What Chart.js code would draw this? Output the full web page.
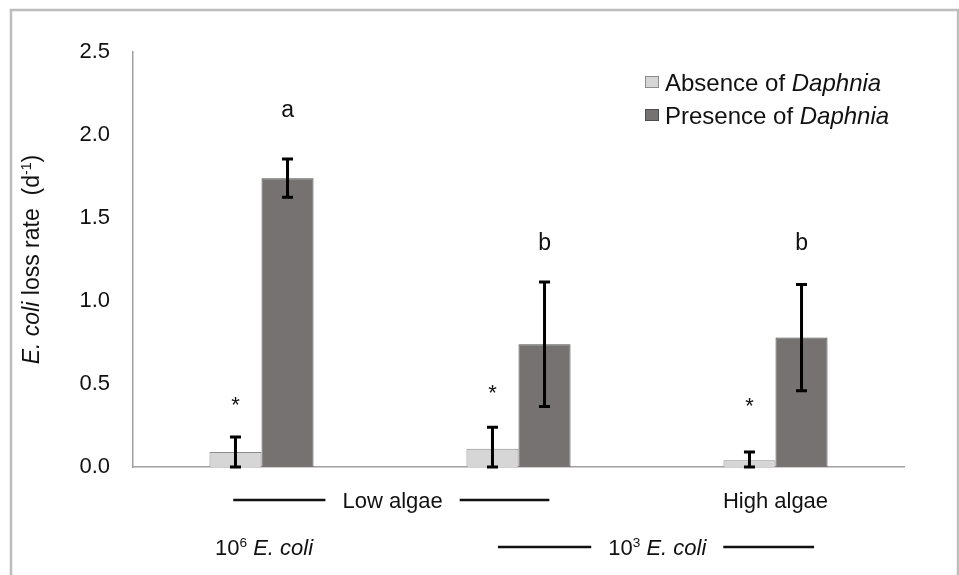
<!DOCTYPE html>
<html>
<head>
<meta charset="utf-8">
<script src="https://cdn.jsdelivr.net/npm/chart.js@4"></script>
<style>
html,body{margin:0;padding:0;background:#fff;}
#wrap{width:959px;height:575px;}
</style>
</head>
<body>
<div id="wrap"><canvas id="c" width="959" height="575"></canvas></div>
<script>
// ---- data ----
const categories = ["Low algae, 10^6", "Low algae, 10^3", "High algae, 10^3"];
const absenceValues = [0.09, 0.11, 0.04];
const absenceErrors = [0.09, 0.13, 0.05];
const presenceValues = [1.74, 0.74, 0.78];
const presenceErrors = [0.115, 0.375, 0.32];
const yTicks = [0, 0.5, 1.0, 1.5, 2.0, 2.5];
const presenceLetters = ["a", "b", "b"];
const presenceLetterHeights = [2.11, 1.31, 1.31];
const absenceMarks = ["*", "*", "*"];
const absenceMarkHeights = [0.334, 0.406, 0.328];
const legendLabels = [
  [{t:"Absence of "}, {t:"Daphnia", i:true}],
  [{t:"Presence of "}, {t:"Daphnia", i:true}]
];
const yTitle = [{t:"E. coli", i:true}, {t:" loss rate  (d"}, {t:"-1", sup:true}, {t:")"}];
// group labels below axis: from/to in category index units
const groupRow1 = [
  {parts:[{t:"Low algae"}], center:0.51, from:-0.11, to:1.12},
  {parts:[{t:"High algae"}], center:2.0, from:null, to:null}
];
const groupRow2 = [
  {parts:[{t:"10"}, {t:"6", sup:true}, {t:" E. coli", i:true}], center:0.01, from:null, to:null},
  {parts:[{t:"10"}, {t:"3", sup:true}, {t:" E. coli", i:true}], center:1.54, from:0.92, to:2.15}
];

const FONT = '"Liberation Sans", Arial, Helvetica, sans-serif';
const LIGHT = '#d6d6d6', LIGHT_B = '#8c8c8c';
const DARK = '#767272', DARK_B = '#4e4e4e';

function fontStr(size, italic){ return (italic ? 'italic ' : '') + size + 'px ' + FONT; }
function partsWidth(ctx, parts, size){
  let w = 0;
  for (const p of parts){ const s = p.sup ? size*0.62 : size; ctx.font = fontStr(s, p.i); w += ctx.measureText(p.t).width; }
  return w;
}
function drawParts(ctx, parts, x, y, size){ // x = left, y = alphabetic baseline
  for (const p of parts){
    const s = p.sup ? size*0.62 : size;
    ctx.font = fontStr(s, p.i);
    ctx.fillText(p.t, x, p.sup ? y - size*0.36 : y);
    x += ctx.measureText(p.t).width;
  }
  return x;
}

const decor = {
  id: 'decor',
  beforeDraw(chart){
    const ctx = chart.ctx;
    ctx.save();
    ctx.fillStyle = '#fff';
    ctx.fillRect(0,0,chart.width,chart.height);
    ctx.strokeStyle = '#bdbdbd';
    ctx.lineWidth = 2.5;
    ctx.strokeRect(11, 10, 947, 620);
    ctx.restore();
  },
  afterDatasetsDraw(chart){
    const ctx = chart.ctx;
    const ys = chart.scales.y, xs = chart.scales.x;
    ctx.save();
    // error bars
    const errs = [absenceErrors, presenceErrors];
    chart.data.datasets.forEach((ds, di) => {
      const meta = chart.getDatasetMeta(di);
      meta.data.forEach((el, i) => {
        const v = ds.data[i], e = errs[di][i];
        const top = ys.getPixelForValue(v + e);
        const bot = ys.getPixelForValue(Math.max(0, v - e));
        const x = el.x;
        ctx.strokeStyle = '#000';
        ctx.lineWidth = 3;
        ctx.beginPath();
        ctx.moveTo(x, top); ctx.lineTo(x, bot);
        ctx.moveTo(x-5.5, top); ctx.lineTo(x+5.5, top);
        ctx.moveTo(x-5.5, bot); ctx.lineTo(x+5.5, bot);
        ctx.stroke();
      });
    });
    // significance letters and marks
    ctx.fillStyle = '#111';
    ctx.textAlign = 'center';
    ctx.textBaseline = 'alphabetic';
    const m0 = chart.getDatasetMeta(0), m1 = chart.getDatasetMeta(1);
    presenceLetters.forEach((t, i) => {
      ctx.font = fontStr(23, false);
      ctx.fillText(t, m1.data[i].x, ys.getPixelForValue(presenceLetterHeights[i]));
    });
    absenceMarks.forEach((t, i) => {
      ctx.font = fontStr(22, false);
      ctx.fillText(t, m0.data[i].x, ys.getPixelForValue(absenceMarkHeights[i]));
    });
    ctx.textAlign = 'left';
    // legend
    const lx = 645, ly = [82, 115];
    legendLabels.forEach((parts, i) => {
      const ds = chart.data.datasets[i];
      ctx.fillStyle = ds.backgroundColor;
      ctx.strokeStyle = ds.borderColor;
      ctx.lineWidth = 1;
      ctx.fillRect(lx, ly[i]-6, 14, 12);
      ctx.strokeRect(lx+0.5, ly[i]-5.5, 13, 11);
      ctx.fillStyle = '#111';
      drawParts(ctx, parts, lx + 20, ly[i] + 8.5, 24);
    });
    // y title
    ctx.save();
    ctx.translate(31, (chart.chartArea.top + chart.chartArea.bottom)/2);
    ctx.rotate(-Math.PI/2);
    const tw = partsWidth(ctx, yTitle, 23);
    ctx.fillStyle = '#111';
    drawParts(ctx, yTitle, -tw/2, 8, 23);
    ctx.restore();
    // group label rows
    const rows = [[groupRow1, 500], [groupRow2, 547]];
    rows.forEach(([row, yc]) => {
      row.forEach(g => {
        const size = 22;
        const w = partsWidth(ctx, g.parts, size);
        const cx = xs.getPixelForValue(g.center);
        ctx.fillStyle = '#111';
        drawParts(ctx, g.parts, cx - w/2, yc + 8, size);
        if (g.from !== null){
          const gap = 17;
          ctx.strokeStyle = '#111';
          ctx.lineWidth = 2.5;
          ctx.beginPath();
          ctx.moveTo(xs.getPixelForValue(g.from), yc);
          ctx.lineTo(cx - w/2 - gap, yc);
          ctx.moveTo(cx + w/2 + gap, yc);
          ctx.lineTo(xs.getPixelForValue(g.to), yc);
          ctx.stroke();
        }
      });
    });
    ctx.restore();
  }
};

new Chart(document.getElementById('c'), {
  type: 'bar',
  data: {
    labels: categories,
    datasets: [
      {label: 'Absence of Daphnia', data: absenceValues, backgroundColor: LIGHT, borderColor: LIGHT_B, borderWidth: 1},
      {label: 'Presence of Daphnia', data: presenceValues, backgroundColor: DARK, borderColor: DARK_B, borderWidth: 1}
    ]
  },
  options: {
    responsive: false,
    animation: false,
    devicePixelRatio: 1,
    layout: {padding: {left: 53, right: 55, top: 52, bottom: 108}},
    datasets: {bar: {categoryPercentage: 0.405, barPercentage: 1.0}},
    plugins: {legend: {display: false}, tooltip: {enabled: false}},
    scales: {
      x: {
        grid: {display: false, drawTicks: false},
        border: {display: true, color: '#a0a0a0', width: 1.5},
        ticks: {display: false},
        afterFit(s){ s.height = 0; }
      },
      y: {
        min: 0, max: 2.5,
        afterBuildTicks(s){ s.ticks = yTicks.map(v => ({value: v})); },
        grid: {display: false, drawTicks: false},
        border: {display: true, color: '#a0a0a0', width: 1.5},
        ticks: {
          font: {family: FONT, size: 22},
          color: '#111',
          padding: 23,
          callback: v => Number(v).toFixed(1)
        },
        afterFit(s){ s.width = 80; }
      }
    }
  },
  plugins: [decor]
});
</script>
</body>
</html>
